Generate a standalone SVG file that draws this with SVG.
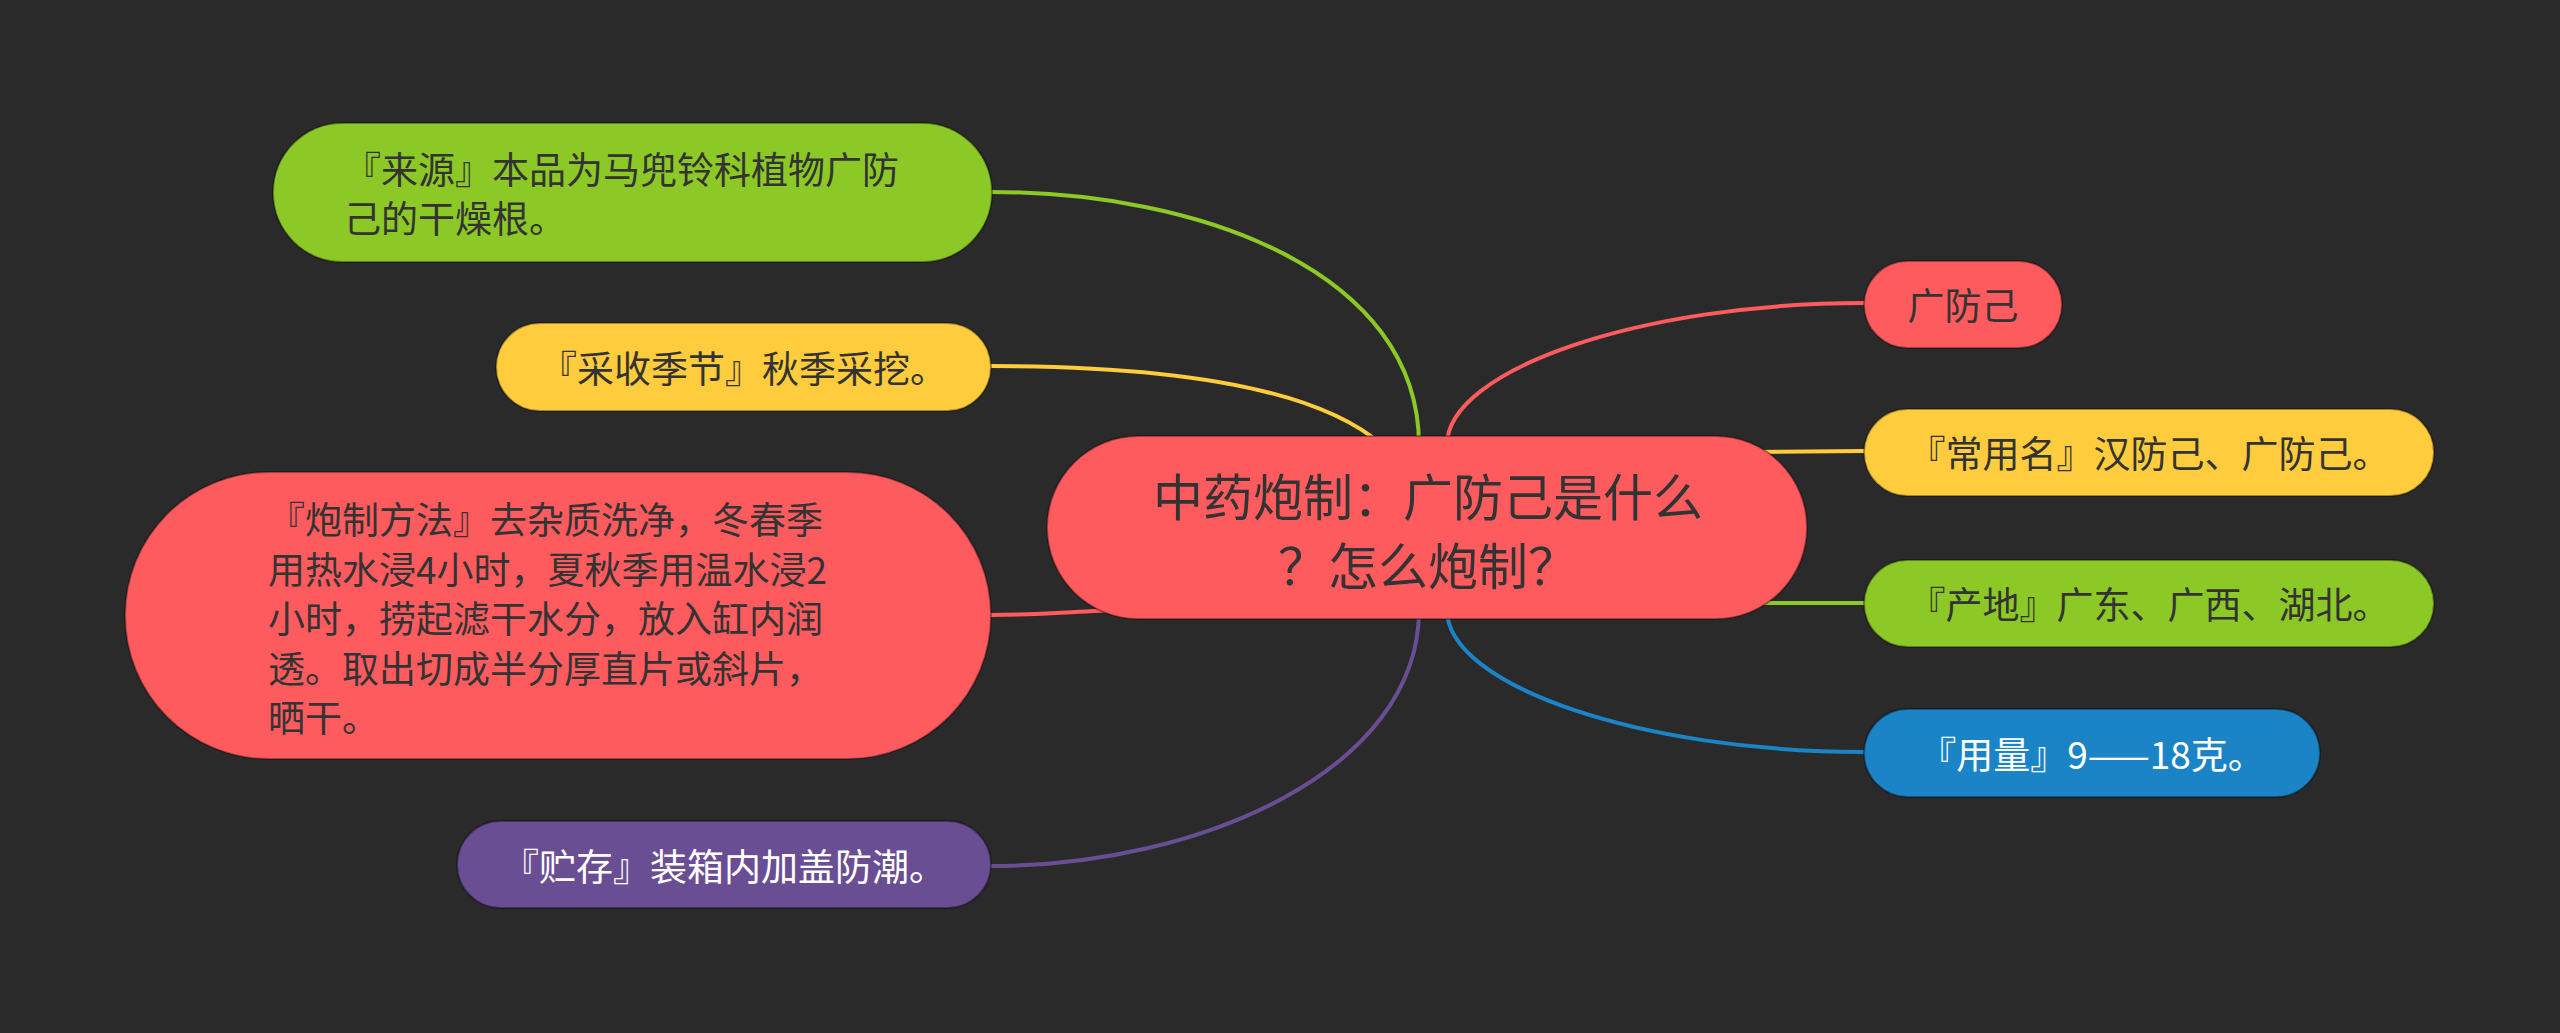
<svg xmlns="http://www.w3.org/2000/svg" width="2560" height="1033" viewBox="0 0 2560 1033">
<style>
.t{font-family:"Noto Sans CJK SC","Microsoft YaHei","Liberation Sans",sans-serif;font-size:37px;fill:#333333;dominant-baseline:central}
.w{fill:#ffffff}
.c{font-size:50px;text-anchor:middle}
.m{text-anchor:middle}
.n{stroke:#000;stroke-opacity:0.35;stroke-width:2}
.l{fill:none;stroke-width:4;stroke-linecap:round}
</style>
<rect x="0" y="0" width="2560" height="1033" fill="#2a2a2a"/>
<g id="connectors">
<path class="l" stroke="#8cc926" d="M992,192 C1200,192 1419,272 1419,445"/>
<path class="l" stroke="#fecc3c" d="M991,366 C1150,366 1310,382 1382,445"/>
<path class="l" stroke="#fe5b5f" d="M991,615 C1040,615 1080,611 1120,610"/>
<path class="l" stroke="#6a4e93" d="M991,866 C1200,866 1419,770 1419,610"/>
<path class="l" stroke="#fe5b5f" d="M1864,303 C1640,303 1447,370 1447,445"/>
<path class="l" stroke="#fecc3c" d="M1750,452 L1864,451"/>
<path class="l" stroke="#8cc926" d="M1750,603 L1864,603"/>
<path class="l" stroke="#1b84c6" d="M1864,752 C1640,752 1447,685 1447,610"/>
</g>
<g id="center">
<rect class="n" x="1047" y="436" width="760" height="183" rx="91.5" fill="#fe5b5f"/>
<text class="t c" x="1428" y="494">中药炮制：广防己是什么</text>
<text class="t c" x="1428" y="563">？怎么炮制？</text>
</g>
<g id="n-laiyuan">
<rect class="n" x="273" y="123" width="719" height="139" rx="69.5" fill="#8cc926"/>
<text class="t" x="344" y="168">『来源』本品为马兜铃科植物广防</text>
<text class="t" x="344" y="217">己的干燥根。</text>
</g>
<g id="n-caishou">
<rect class="n" x="496" y="323" width="495" height="88" rx="44" fill="#fecc3c"/>
<text class="t m" x="743.5" y="367">『采收季节』秋季采挖。</text>
</g>
<g id="n-paozhi">
<rect class="n" x="125" y="472" width="866" height="287" rx="143.5" fill="#fe5b5f"/>
<text class="t" x="268" y="518">『炮制方法』去杂质洗净，冬春季</text>
<text class="t" x="268" y="568">用热水浸4小时，夏秋季用温水浸2</text>
<text class="t" x="268" y="617">小时，捞起滤干水分，放入缸内润</text>
<text class="t" x="268" y="667">透。取出切成半分厚直片或斜片，</text>
<text class="t" x="268" y="716">晒干。</text>
</g>
<g id="n-zhucun">
<rect class="n" x="457" y="821" width="534" height="87" rx="43.5" fill="#6a4e93"/>
<text class="t w m" x="724" y="865">『贮存』装箱内加盖防潮。</text>
</g>
<g id="n-guangfangji">
<rect class="n" x="1864" y="261" width="198" height="87" rx="43.5" fill="#fe5b5f"/>
<text class="t m" x="1963" y="304">广防己</text>
</g>
<g id="n-changyong">
<rect class="n" x="1864" y="409" width="570" height="87" rx="43.5" fill="#fecc3c"/>
<text class="t m" x="2149" y="452">『常用名』汉防己、广防己。</text>
</g>
<g id="n-chandi">
<rect class="n" x="1864" y="560" width="570" height="87" rx="43.5" fill="#8cc926"/>
<text class="t m" x="2149" y="603">『产地』广东、广西、湖北。</text>
</g>
<g id="n-yongliang">
<rect class="n" x="1864" y="709" width="456" height="88" rx="44" fill="#1b84c6"/>
<text class="t w m" x="2092" y="753">『用量』9——18克。</text>
</g>
</svg>
